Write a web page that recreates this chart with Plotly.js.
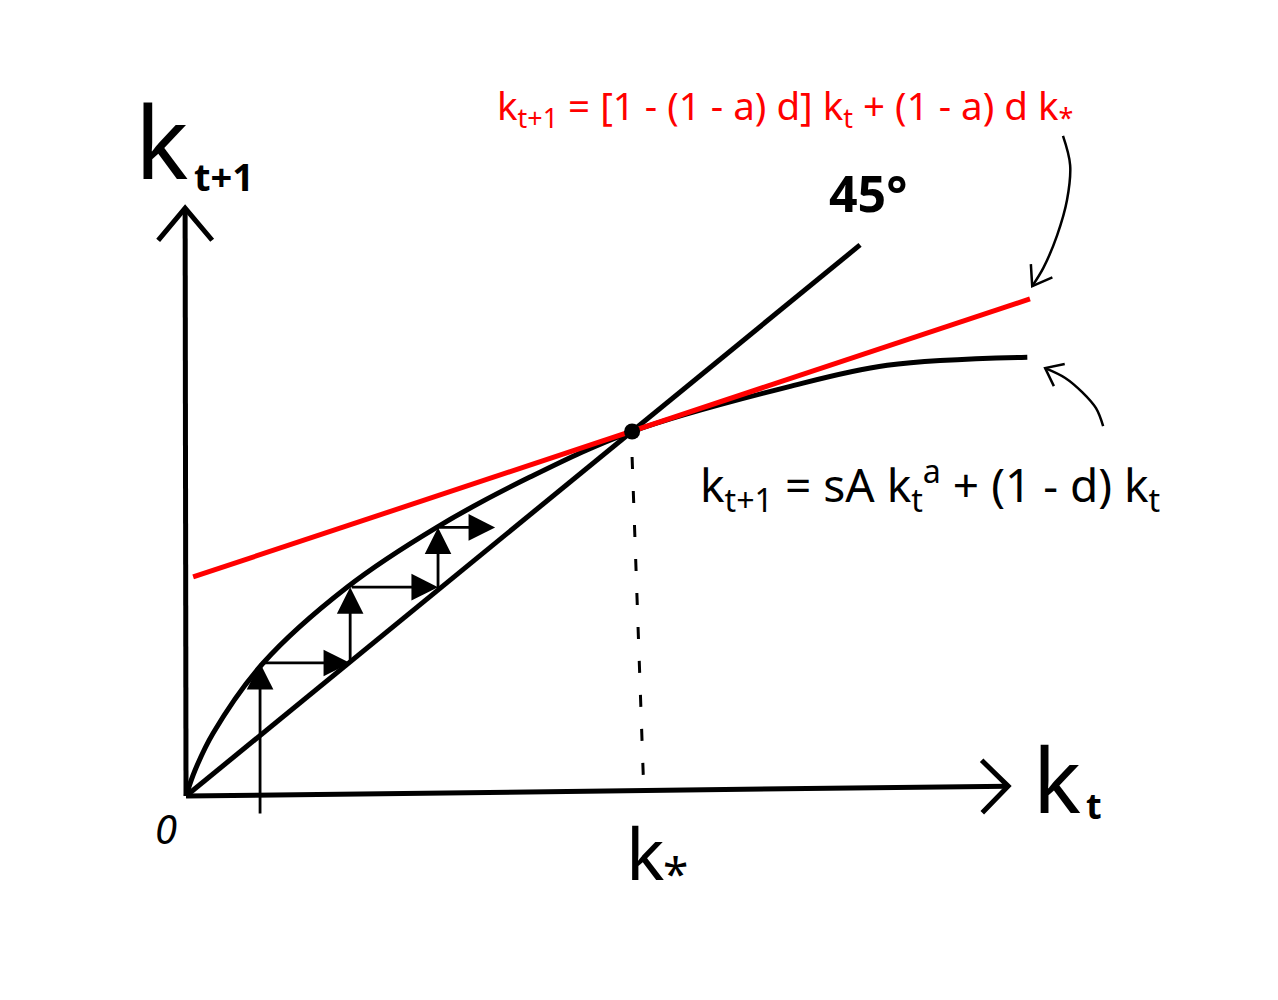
<!DOCTYPE html>
<html><head><meta charset="utf-8">
<script src="https://cdn.plot.ly/plotly-3.0.1.min.js"></script>
<style>html,body{margin:0;padding:0;background:#fff}</style>
</head><body><div id="chart" style="width:1278px;height:1000px"></div>
<script>
// ---- data (units: k* = 1) ----
// transition curve k_{t+1} = sA k_t^a + (1-d) k_t
const curveK    = [0, 0.020, 0.061, 0.173, 0.361, 0.563, 0.771, 1.0, 1.348, 1.572, 1.886];
const curveNext = [0, 0.070, 0.173, 0.365, 0.573, 0.738, 0.875, 1.0, 1.122, 1.182, 1.204];
// linearised law of motion (red)
const linK    = [0.016, 1.892];
const linNext = [0.601, 1.364];
// 45 degree line
const diagK    = [0, 1.511];
const diagNext = [0, 1.512];
// steady state
const kStar = 1.0;
const dashFoot = [1.025, 0.058];
const dashTopY = 0.93;
// convergence staircase
const stepK    = [0.166, 0.368, 0.565, 0.693];
const stepNext = [0.365, 0.573, 0.737];
const stepStartY = -0.052;
// axes
const axisOrigin = [0, 0];
const xAxisEnd = [1.843, 0.027];
const yAxisEnd = [-0.002, 1.613];
// hand-drawn pointer arrows (tail -> tip)
const redPtrX = [1.966, 1.982, 1.975, 1.953, 1.922, 1.897];
const redPtrY = [1.811, 1.731, 1.635, 1.539, 1.449, 1.399];
const blkPtrX = [2.056, 2.040, 2.009, 1.971, 1.926];
const blkPtrY = [1.015, 1.064, 1.108, 1.147, 1.174];
// labels
const yLabelMain = 'k', yLabelSub = 't+1';
const xLabelMain = 'k', xLabelSub = 't';
const kStarMain = 'k', kStarSub = '*';
const originLabel = '0';
const diagLabel = '45°';
const redEq = 'k<sub>t+1</sub> = [1 - (1 - a) d] k<sub>t</sub> + (1 - a) d k<sub>*</sub>';
const blackEq = 'k<sub>t+1</sub> = sA k<sub>t</sub><sup>a</sup> + (1 - d) k<sub>t</sub>';

// ---- layout helpers ----
const W = 1278, H = 1000;
const xr = [-0.417, 2.448], yr = [-0.5597, 2.184];
function toPx(x, y) { return [(x - xr[0]) / (xr[1] - xr[0]) * W, (yr[1] - y) / (yr[1] - yr[0]) * H]; }
function toData(px, py) { return [xr[0] + px / W * (xr[1] - xr[0]), yr[1] - py / H * (yr[1] - yr[0])]; }
function chevron(tip, from, len, ang) {
  const t = toPx(tip[0], tip[1]), f = toPx(from[0], from[1]);
  let dx = f[0] - t[0], dy = f[1] - t[1];
  const n = Math.hypot(dx, dy); dx /= n; dy /= n;
  const a = ang * Math.PI / 180;
  const arm = s => toData(t[0] + len * (dx * Math.cos(s * a) - dy * Math.sin(s * a)),
                          t[1] + len * (dx * Math.sin(s * a) + dy * Math.cos(s * a)));
  const p1 = arm(1), p2 = arm(-1);
  return { x: [p1[0], tip[0], p2[0]], y: [p1[1], tip[1], p2[1]] };
}
const blk = '#000000', red = '#ff0000';
function line(x, y, w, color, extra) {
  return Object.assign({ x: x, y: y, mode: 'lines', hoverinfo: 'skip',
    line: Object.assign({ color: color, width: w }, extra || {}) });
}

const last = a => a[a.length - 1], prev = a => a[a.length - 2];
const yHead = chevron(yAxisEnd, axisOrigin, 42, 40);
const xHead = chevron(xAxisEnd, axisOrigin, 37, 45);
const rHead = chevron([last(redPtrX), last(redPtrY)], [prev(redPtrX), prev(redPtrY)], 22, 35);
const bHead = chevron([last(blkPtrX), last(blkPtrY)], [prev(blkPtrX), prev(blkPtrY)], 20, 38);

const traces = [
  line([axisOrigin[0], xAxisEnd[0]], [axisOrigin[1], xAxisEnd[1]], 5, blk),
  line([axisOrigin[0], yAxisEnd[0]], [axisOrigin[1], yAxisEnd[1]], 5, blk),
  line(xHead.x, xHead.y, 5, blk),
  line(yHead.x, yHead.y, 5, blk),
  line([kStar, dashFoot[0]], [dashTopY, dashFoot[1]], 3, blk, { dash: '12px,22px' }),
  line(diagK, diagNext, 5, blk),
  line(curveK, curveNext, 5, blk, { shape: 'spline', smoothing: 1 }),
  line(linK, linNext, 5, red),
  line(redPtrX, redPtrY, 2.5, blk, { shape: 'spline' }),
  line(rHead.x, rHead.y, 2.5, blk),
  line(blkPtrX, blkPtrY, 2.5, blk, { shape: 'spline' }),
  line(bHead.x, bHead.y, 2.5, blk),
  { x: [kStar], y: [kStar], mode: 'markers', hoverinfo: 'skip',
    marker: { color: blk, size: 16, symbol: 'circle' } }
];

// staircase arrows
const annotations = [];
function arrow(x0, y0, x1, y1) {
  annotations.push({ x: x1, y: y1, ax: x0, ay: y0, xref: 'x', yref: 'y', axref: 'x', ayref: 'y',
    text: '', showarrow: true, arrowhead: 2, arrowsize: 1.9, arrowwidth: 2.8, arrowcolor: blk, standoff: 0 });
}
for (let i = 0; i < stepNext.length; i++) {
  const y0 = i === 0 ? stepStartY : stepK[i];
  arrow(stepK[i], y0, stepK[i], stepNext[i]);
  arrow(stepK[i], stepNext[i], stepK[i + 1], stepNext[i]);
}
const F = 'Noto Sans, DejaVu Sans, sans-serif';
function txt(text, x, y, size, color, xa, ya, weight, style) {
  annotations.push({ text: text, x: x, y: y, xref: 'x', yref: 'y', showarrow: false,
    xanchor: xa || 'center', yanchor: ya || 'middle',
    font: { family: F, size: size, color: color, weight: weight || 'normal', style: style || 'normal' } });
}
txt(yLabelMain, -0.118, 1.80, 100, blk, 'left');
txt(yLabelSub, 0.014, 1.70, 38, blk, 'left', 'middle', 'bold');
txt(diagLabel, 1.529, 1.654, 50, blk, 'center', 'middle', 'bold');
txt(redEq, 1.343, 1.888, 38.5, red);
txt(blackEq, 1.668, 0.853, 46, blk);
txt(xLabelMain, 1.953, 0.049, 90, blk);
txt(xLabelSub, 2.036, -0.025, 36, blk, 'center', 'middle', 'bold');
txt(originLabel, -0.045, -0.088, 40, blk, 'center', 'middle', 'normal', 'italic');
txt(kStarMain, 1.029, -0.154, 72, blk);
txt(kStarSub, 1.098, -0.212, 46, blk);

const layout = {
  width: W, height: H, margin: { l: 0, r: 0, t: 0, b: 0 },
  paper_bgcolor: '#ffffff', plot_bgcolor: '#ffffff', showlegend: false,
  xaxis: { range: xr, visible: false, fixedrange: true },
  yaxis: { range: yr, visible: false, fixedrange: true },
  annotations: annotations
};
Plotly.newPlot('chart', traces, layout, { displayModeBar: false, staticPlot: true });
</script></body></html>
